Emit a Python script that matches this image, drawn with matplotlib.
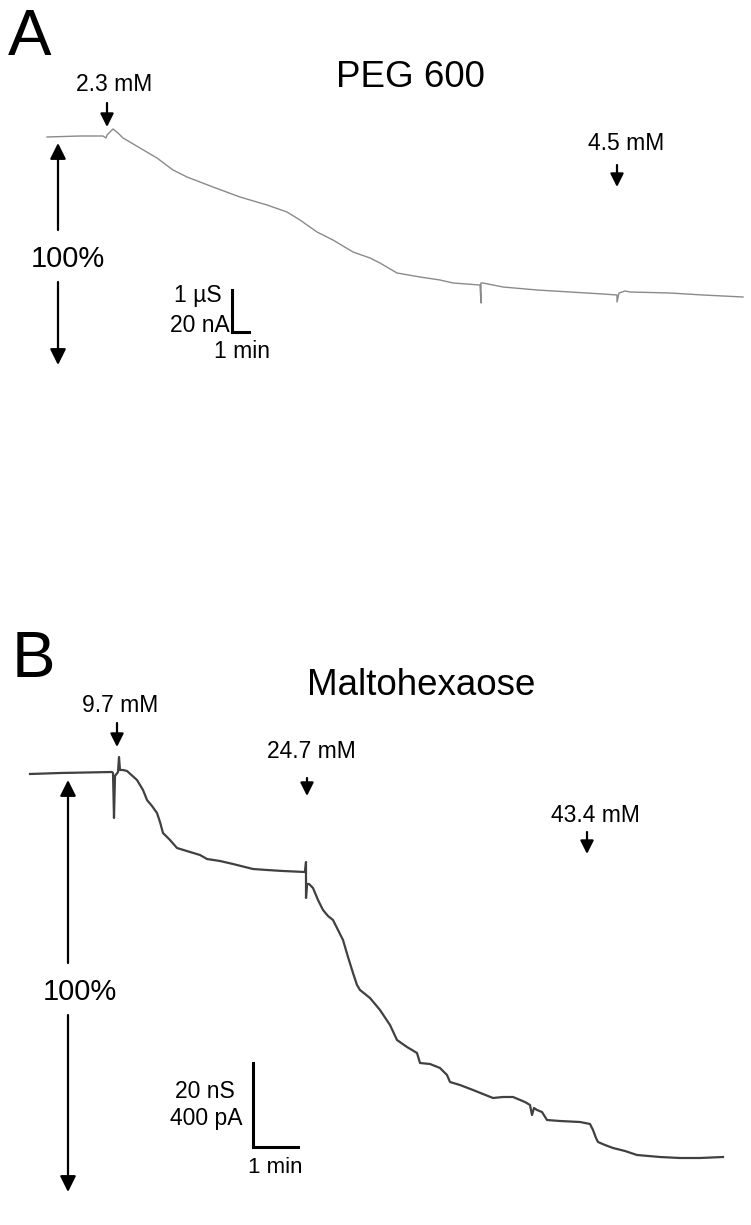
import matplotlib
matplotlib.use("Agg")
import matplotlib.pyplot as plt

plt.rcParams['font.family'] = ['Liberation Sans', 'DejaVu Sans']

# ---------------- Data (recording traces, figure-pixel units) ----------------
# Panel A: PEG 600
trace_a_t = [47, 80, 103, 106, 107, 113, 118, 123, 140, 157, 173, 187, 213, 240, 267,
             287, 300, 317, 333, 353, 370, 380, 397, 420, 440, 453, 480, 481, 481, 483,
             503, 537, 570, 603, 617, 617, 619, 625, 630, 670, 703, 743]
trace_a_y = [137, 136, 136, 138, 135, 129, 133, 138, 148, 158, 170, 177, 187, 197, 205,
             212, 220, 232, 240, 252, 258, 263, 273, 277, 280, 283, 285, 303, 283, 283,
             287, 290, 292, 294, 295, 302, 293, 291, 292, 293, 295, 297]

# Panel B: Maltohexaose
trace_b_t = [30, 60, 112, 113, 114, 115, 118, 119, 120, 123, 127, 137, 143, 147, 152,
             157, 160, 163, 170, 177, 190, 200, 207, 220, 233, 253, 267, 283, 305, 306,
             306, 307, 309, 313, 318, 323, 328, 333, 338, 343, 348, 353, 357, 360, 370,
             380, 390, 397, 407, 417, 420, 430, 440, 447, 450, 460, 473, 483, 493, 503,
             513, 525, 530, 532, 534, 537, 542, 547, 560, 580, 590, 593, 596, 598, 605,
             613, 625, 637, 660, 680, 700, 723]
trace_b_y = [774, 773, 772, 773, 818, 776, 772, 757, 770, 770, 771, 780, 790, 800, 806,
             813, 822, 833, 840, 848, 852, 855, 859, 861, 864, 869, 870, 871, 872, 862,
             898, 884, 884, 888, 900, 910, 916, 920, 930, 940, 957, 973, 985, 990, 998,
             1010, 1025, 1040, 1047, 1053, 1063, 1064, 1068, 1075, 1082, 1085, 1090, 1094, 1098, 1097,
             1097, 1102, 1105, 1115, 1108, 1110, 1112, 1120, 1121, 1122, 1124, 1130, 1138, 1142, 1145,
             1148, 1151, 1155, 1157, 1158, 1158, 1157]

# Application markers: (label, arrow x, text x, text baseline, arrow top, arrow tip)
marks_a = [("2.3 mM", 107, 114, 91, 103, 127),
           ("4.5 mM", 617, 626, 150, 165, 187)]
marks_b = [("9.7 mM", 117, 120, 712, 723, 747),
           ("24.7 mM", 307, 311, 758, 778, 796),
           ("43.4 mM", 587, 595, 822, 832, 854)]

# ---------------- Figure ----------------
fig = plt.figure(figsize=(7.51, 12.25), dpi=100)
ax = fig.add_axes([0, 0, 1, 1])
ax.set_xlim(0, 751)
ax.set_ylim(1225, 0)
ax.axis('off')

ax.plot(trace_a_t, trace_a_y, color='#8a8a8a', lw=1.0, solid_joinstyle='round')
ax.plot(trace_b_t, trace_b_y, color='#404040', lw=1.6, solid_joinstyle='round')

def arrow(x, y0, y1, ms=20, lw=1.6):
    ax.annotate('', xy=(x, y1), xytext=(x, y0),
                arrowprops=dict(arrowstyle='-|>', color='black', lw=lw,
                                mutation_scale=ms, shrinkA=0, shrinkB=0))

for lab, xa, xt, yb, y0, y1 in marks_a + marks_b:
    ax.text(xt, yb, lab, fontsize=16.5, ha='center', va='baseline')
    arrow(xa, y0, y1, ms=20)

# Panel letters and titles
ax.text(8, 55, "A", fontsize=47, ha='left', va='baseline')
ax.text(336, 87, "PEG 600", fontsize=26.5, ha='left', va='baseline')
ax.text(12, 677, "B", fontsize=47, ha='left', va='baseline')
ax.text(307, 695, "Maltohexaose", fontsize=26.5, ha='left', va='baseline')

# 100% double arrows
arrow(58, 230, 143, ms=24)
arrow(58, 282, 365, ms=24)
ax.text(68, 267, "100%", fontsize=21, ha='center', va='baseline')

arrow(68, 963, 780, ms=24)
arrow(68, 1015, 1192, ms=24)
ax.text(80, 1000, "100%", fontsize=21, ha='center', va='baseline')

# Scale bars
ax.plot([232, 232, 249], [290, 332, 332], color='black', lw=2.2, solid_joinstyle='miter')
ax.text(222, 302, "1 µS", fontsize=16.5, ha='right', va='baseline')
ax.text(230, 332, "20 nA", fontsize=16.5, ha='right', va='baseline')
ax.text(242, 358, "1 min", fontsize=16.5, ha='center', va='baseline')

ax.plot([253, 253, 298], [1063, 1147, 1147], color='black', lw=2.2, solid_joinstyle='miter')
ax.text(235, 1098, "20 nS", fontsize=16.5, ha='right', va='baseline')
ax.text(243, 1125, "400 pA", fontsize=16.5, ha='right', va='baseline')
ax.text(275, 1173, "1 min", fontsize=16, ha='center', va='baseline')

fig.savefig("out.png", dpi=100, facecolor='white')
